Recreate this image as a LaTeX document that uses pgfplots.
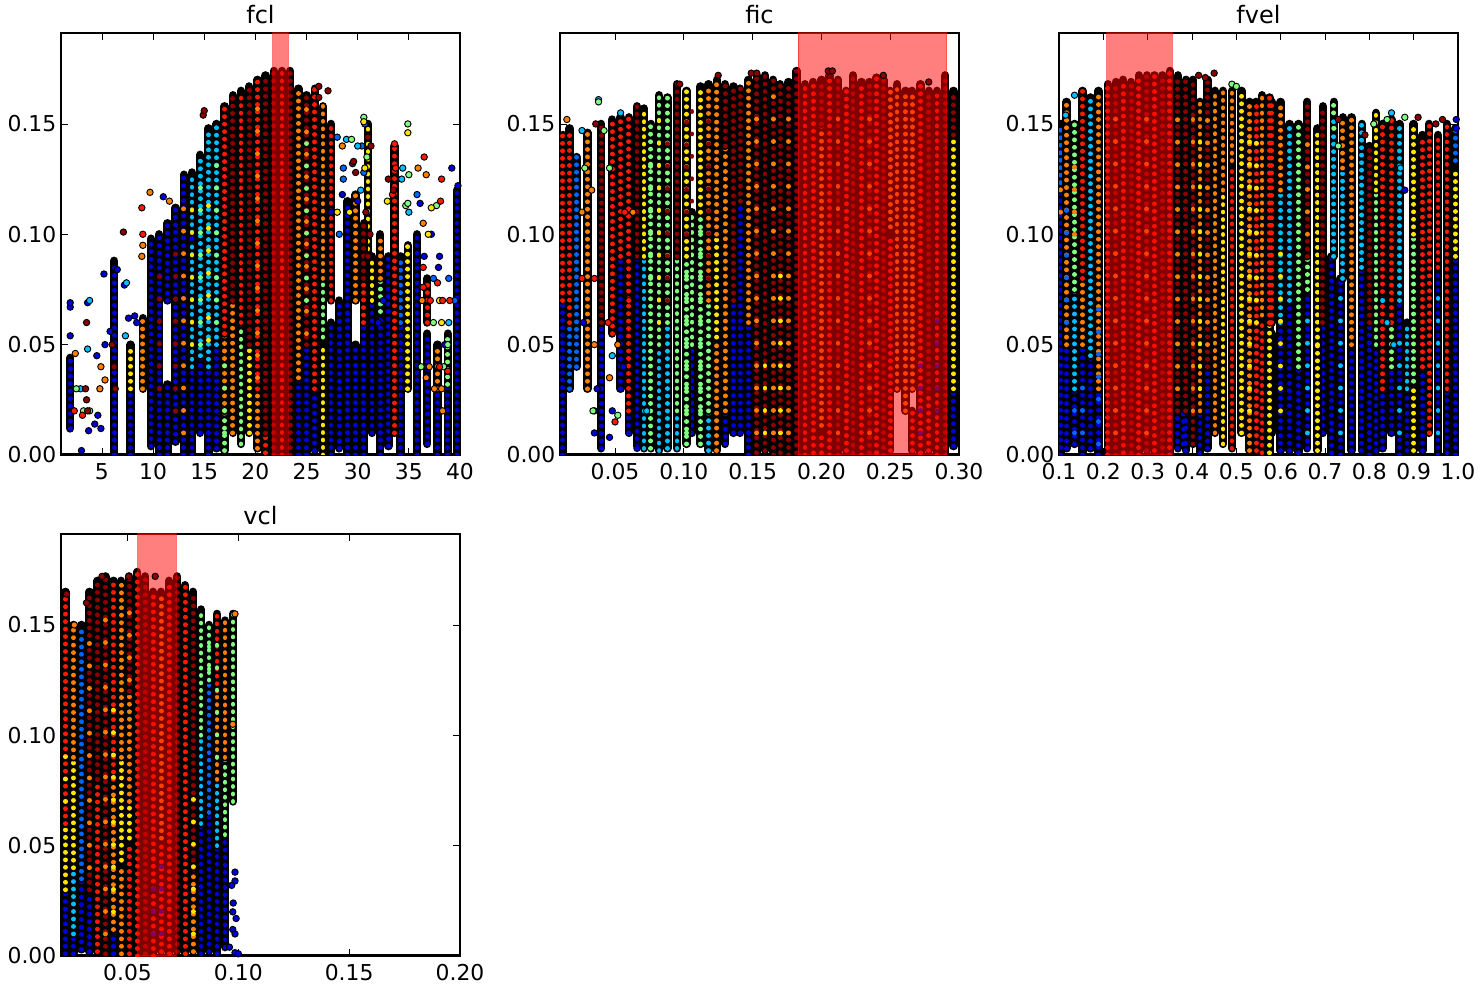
\documentclass[border=0pt]{standalone}
\usepackage{fontspec}
\setmainfont{DejaVu Sans}
\usepackage{pgfplots}
\pgfplotsset{compat=1.18}
\definecolor{cb}{rgb}{0,0,.85}
\definecolor{cl}{rgb}{0,.4,1}
\definecolor{ct}{rgb}{0,.75,1}
\definecolor{cg}{rgb}{.5,1,.5}
\definecolor{cy}{rgb}{1,.9,0}
\definecolor{co}{rgb}{1,.5,0}
\definecolor{cr}{rgb}{1,.1,0}
\definecolor{cd}{rgb}{.55,0,0}
\pgfplotsset{
  panel/.style={
    scale only axis, width=299.25pt, height=316.5pt,
    ymin=0, ymax=.1912, ytick={0,.05,.1,.15},
    scaled ticks=false, tick align=inside,
    major tick length=5pt, tick style={black,line width=.6pt},
    axis line style={line width=.8pt},
    tick label style={font=\fontsize{16.4}{18}\selectfont,
      /pgf/number format/assume math mode=true},
    xticklabel style={yshift=-3pt},
    yticklabel style={/pgf/number format/.cd,fixed,fixed zerofill,precision=2},
    title style={font=\fontsize{18}{20}\selectfont,yshift=-3pt},
    minor tick num=0, unbounded coords=jump,
  },
}
% stacked points in a column: black backing, row of coloured dots on it
\tikzset{
  back/.style={black,line width=6.3pt,line cap=round},
  dots/.style={line width=3.6pt,line cap=round,dash pattern=on .01pt off 5.6pt},
  spk/.style={line width=3.6pt,line cap=round,dash pattern=on .01pt off 16.8pt},
}
\def\J{(0,nan)}
\newcommand\col[2]{\edef\tmp{\noexpand\addplot[back] coordinates {#2};\noexpand\addplot[dots,#1] coordinates {#2};}\tmp}
\newcommand\spk[2]{\edef\tmp{\noexpand\addplot[spk,#1] coordinates {#2};}\tmp}
\newcommand\pts[2]{\addplot[only marks,mark=*,mark size=2.4pt,
  mark options={fill=#1,draw=black,line width=.7pt}] coordinates {#2};}
\newcommand\band[2]{\addplot[fill=red,fill opacity=.5,draw=red,draw opacity=.5,line width=.8pt]
  coordinates {(#1,0)(#1,.1912)(#2,.1912)(#2,0)} \closedcycle;}
\begin{document}
\begin{tikzpicture}
\useasboundingbox (0,0) rectangle (1112.25pt,741.75pt);
% ---------- fcl
\begin{axis}[panel,at={(45.75pt,400.5pt)},title={fcl},xmin=1,xmax=40,
  xtick={5,10,15,20,25,30,35,40}]
\addplot[black,line width=3pt] coordinates {(1,0)(40,0)};
\col{cb}{(1.9,.012)(1.9,.044)\J(6.2,0)(6.2,.088)\J(7.8,0)(7.8,.03)\J(9.8,.004)(9.8,.098)\J(10.6,0)(10.6,.1)\J
(11.4,0)(11.4,.032)\J(11.4,.07)(11.4,.105)\J(12.2,.006)(12.2,.112)\J(13,0)(13,.127)\J(13.8,0)(13.8,.04)\J
(14.6,.01)(14.6,.045)\J(15.4,0)(15.4,.04)\J(16.2,.003)(16.2,.05)\J(24.2,0)(24.2,.035)\J(25,0)(25,.05)\J
(25.8,.002)(25.8,.03)\J(27.4,0)(27.4,.06)\J(28.2,.003)(28.2,.07)\J(29,0)(29,.115)\J(29.8,0)(29.8,.05)\J
(30.6,0)(30.6,.06)\J(31.4,.01)(31.4,.07)\J(32.2,0)(32.2,.065)\J(33,.004)(33,.09)\J(34.2,0)(34.2,.06)\J
(35.8,0)(35.8,.1)\J(36.8,.005)(36.8,.055)\J(37.8,0)(37.8,.028)\J(38.8,0)(38.8,.032)\J(39.7,0)(39.7,.12)}
\col{cl}{(34.2,.06)(34.2,.09)}
\col{ct}{(13.8,.04)(13.8,.128)\J(14.6,.045)(14.6,.136)\J(15.4,.04)(15.4,.148)\J(16.2,.05)(16.2,.15)}
\col{cg}{(18.6,.005)(18.6,.06)\J(26.6,.05)(26.6,.08)\J(32.2,.065)(32.2,.08)\J(38.8,.032)(38.8,.055)\J(17,.002)(17,.02)}
\col{cy}{(7.8,.03)(7.8,.05)\J(19.4,.01)(19.4,.05)\J(26.6,0)(26.6,.05)\J(34.9,.03)(34.9,.095)\J(31,.09)(31,.15)\J(31.4,.07)(31.4,.09)}
\col{co}{(9,.03)(9,.062)\J(17,.02)(17,.055)\J(17.8,.01)(17.8,.07)\J(24.2,.035)(24.2,.166)\J(26.6,.08)(26.6,.158)\J
(29.8,.07)(29.8,.118)\J(32.2,.08)(32.2,.1)\J(37.8,.03)(37.8,.05)\J(20.2,.003)(20.2,.03)}
\col{cr}{(17,.055)(17,.158)\J(18.6,.06)(18.6,.165)\J(20.2,.03)(20.2,.17)\J(22.6,0)(22.6,.174)\J(25.8,.03)(25.8,.166)\J
(27.4,.07)(27.4,.15)\J(33.6,.01)(33.6,.14)\J(30.6,.06)(30.6,.08)\J(36.8,.06)(36.8,.08)\J(21,.001)(21,.01)}
\col{cd}{(17.8,.07)(17.8,.163)\J(19.4,.05)(19.4,.167)\J(21,.01)(21,.172)\J(21.8,0)(21.8,.174)\J(23.4,0)(23.4,.174)\J
(25,.05)(25,.163)\J(30.6,.08)(30.6,.105)}
\spk{draw=cy}{(13.8,.05)(13.8,.12)\J(15.4,.052)(15.4,.12)}
\spk{draw=cg}{(14.6,.05)(14.6,.13)\J(16.2,.06)(16.2,.14)}
\spk{draw=cd}{(12.2,.02)(12.2,.1)\J(10.6,.03)(10.6,.09)}
\spk{draw=co}{(13,.01)(13,.12)\J(20.2,.035)(20.2,.16)\J(25,.055)(25,.16)}
\spk{draw=cg}{(25,.07)(25,.15)\J(17,.01)(17,.05)}
\pts{cb}{(1.9,.054)(1.9,.067)(1.9,.069)(3,.002)(3.7,.011)(3.6,.069)(4.6,.018)(4.5,.045)(4.3,.014)(5.3,.05)(5.8,.056)(4.9,.012)
(6.5,.084)(5.2,.082)(7.6,.062)(8.2,.063)(7.2,.077)(8.4,.06)(11,.117)(13.8,.098)(27.4,.11)(28.5,.118)(30,.115)(32,.06)
(36.1,.114)(36.5,.09)(37.2,.1)(38,.09)(39.2,.13)(39.8,.122)(37.9,.085)(38.5,.05)(36.8,.04)(33,.065)(32.5,.07)}
\pts{cl}{(28.6,.13)(28.6,.125)(28,.144)(30.7,.15)(30.6,.128)(30.4,.14)(28.2,.1)(35.8,.118)(38.9,.08)(37.4,.08)(39.5,.07)}
\pts{ct}{(3.8,.07)(7.4,.078)(7.3,.054)(3.6,.048)(2.9,.03)(28.9,.143)(34.4,.13)(34.3,.125)(30,.14)(30.3,.12)(38.9,.06)(35,.11)}
\pts{cg}{(2.5,.03)(3.2,.02)(3.8,.02)(34.7,.113)(37.7,.113)(29.4,.143)(30.6,.153)(30.9,.135)(34.9,.15)(35,.127)(34.9,.114)
(37.4,.06)(38.8,.05)(38.4,.04)(36.2,.04)}
\pts{cy}{(30.6,.151)(32.9,.115)(30.7,.13)(34.9,.146)(37.2,.112)(38,.07)(36.9,.1)(38.2,.06)(28,.11)(29.2,.11)}
\pts{co}{(2.4,.046)(4.8,.03)(5.3,.034)(4.9,.04)(9.7,.119)(8.9,.09)(9,.095)(28.5,.14)(11.6,.115)(35.9,.13)(36.7,.127)(36.4,.105)
(36.3,.07)(36.7,.035)(37.5,.03)(38.2,.03)(38.3,.02)(37,.04)}
\pts{cr}{(2.3,.02)(3.1,.018)(9,.1)(8.9,.112)(33.6,.141)(33.4,.118)(33.7,.13)(36.5,.135)(38.2,.125)(38.1,.115)(36.4,.085)(36.4,.076)
(37.8,.078)(38.3,.07)(39,.07)(38,.04)(38.8,.038)(37.1,.07)}
\pts{cd}{(3.4,.03)(3.6,.02)(3.5,.025)(3.5,.06)(7.1,.101)(14.9,.154)(15,.156)(27.1,.165)(26.2,.167)(33.5,.12)(33,.125)(31,.144)(31.3,.14)
(29.5,.132)(29.6,.133)(29.8,.128)(30.8,.11)(31.2,.1)(31,.09)(26.2,.162)(6,.05)(6.2,.04)(6.3,.03)}
\band{21.7}{23.2}
\end{axis}
% ---------- fic
\begin{axis}[panel,at={(420pt,400.5pt)},title={fic},xmin=.01,xmax=.3,
  xtick={.05,.1,.15,.2,.25,.3},
  xticklabel style={/pgf/number format/.cd,fixed,fixed zerofill,precision=2}]
\addplot[black,line width=3pt] coordinates {(.01,0)(.3,0)};
\col{cb}{(.012,0)(.012,.07)\J(.04,.003)(.04,.06)\J(.066,.004)(.066,.09)\J(.06,.01)(.06,.02)\J(.141,.01)(.141,.115)\J
(.136,.01)(.136,.07)\J(.147,0)(.147,.06)\J(.296,.004)(.296,.03)\J(.106,.01)(.106,.05)\J(.13,.005)(.13,.02)\J(.054,.03)(.054,.09)}
\col{cl}{(.022,.04)(.022,.135)\J(.017,.03)(.017,.06)}
\col{ct}{(.071,.003)(.071,.09)\J(.082,.002)(.082,.05)\J(.088,.003)(.088,.06)\J(.118,.002)(.118,.02)\J(.095,.003)(.095,.02)}
\col{cg}{(.076,.003)(.076,.15)\J(.082,.05)(.082,.163)\J(.088,.06)(.088,.162)\J(.095,.02)(.095,.09)\J(.106,.05)(.106,.11)\J(.118,.02)(.118,.07)\J
(.102,.005)(.102,.09)\J(.112,.005)(.112,.11)}
\col{cy}{(.071,.09)(.071,.157)\J(.102,.09)(.102,.165)\J(.112,.11)(.112,.167)\J(.124,.05)(.124,.1)\J(.296,.03)(.296,.145)}
\col{co}{(.03,.03)(.03,.146)\J(.118,.07)(.118,.168)\J(.124,.1)(.124,.17)\J(.13,.02)(.13,.14)\J(.147,.06)(.147,.17)\J(.255,.03)(.255,.168)\J
(.261,.02)(.261,.165)\J(.266,.03)(.266,.165)\J(.25,.1)(.25,.165)\J(.2,.01)(.2,.15)\J(.124,.002)(.124,.05)}
\col{cr}{(.012,.07)(.012,.145)\J(.017,.06)(.017,.148)\J(.048,.055)(.048,.152)\J(.054,.09)(.054,.153)\J(.06,.02)(.06,.153)\J
(.188,0)(.188,.168)\J(.194,.001)(.194,.169)\J(.206,0)(.206,.172)\J(.218,.002)(.218,.165)\J(.229,0)(.229,.169)\J(.24,.001)(.24,.171)\J
(.272,.001)(.272,.168)\J(.284,0)(.284,.165)\J(.25,.002)(.25,.1)\J(.266,.002)(.266,.02)\J(.278,.002)(.278,.03)\J(.2,.001)(.2,.01)}
\col{cd}{(.04,.06)(.04,.15)\J(.066,.09)(.066,.158)\J(.095,.09)(.095,.168)\J(.13,.14)(.13,.168)\J(.136,.07)(.136,.167)\J(.141,.115)(.141,.166)\J
(.153,.001)(.153,.172)\J(.159,.002)(.159,.172)\J(.165,0)(.165,.17)\J(.17,.001)(.17,.168)\J(.176,0)(.176,.169)\J(.182,.001)(.182,.174)\J
(.2,.15)(.2,.17)\J(.212,0)(.212,.17)\J(.223,.001)(.223,.172)\J(.235,.001)(.235,.169)\J(.245,0)(.245,.17)\J
(.278,.03)(.278,.165)\J(.29,0)(.29,.172)\J(.296,.145)(.296,.165)}
\spk{draw=cg}{(.102,.01)(.102,.09)\J(.112,.02)(.112,.11)\J(.076,.08)(.076,.14)}
\spk{draw=cy}{(.082,.06)(.082,.155)\J(.159,.01)(.159,.05)\J(.17,.01)(.17,.09)}
\spk{draw=co}{(.153,.01)(.153,.16)\J(.165,.01)(.165,.165)\J(.176,.01)(.176,.16)\J(.212,.01)(.212,.16)\J(.235,.01)(.235,.16)}
\spk{draw=cd}{(.088,.07)(.088,.15)\J(.106,.115)(.106,.16)\J(.118,.08)(.118,.16)\J(.102,.1)(.102,.16)}
\spk{draw=cb}{(.272,.01)(.272,.05)\J(.284,.02)(.284,.07)}
\pts{cb}{(.035,.01)(.035,.02)(.048,.02)(.054,.03)(.056,.04)(.06,.01)(.027,.06)(.037,.03)(.046,.008)(.066,.003)}
\pts{ct}{(.038,.161)(.026,.147)(.054,.155)(.048,.045)(.073,.02)}
\pts{cg}{(.038,.16)(.028,.13)(.042,.147)(.046,.13)(.034,.02)(.052,.018)}
\pts{co}{(.015,.152)(.026,.11)(.033,.12)(.035,.05)(.046,.035)(.052,.05)(.063,.11)}
\pts{cr}{(.026,.08)(.035,.08)(.045,.06)(.05,.015)(.06,.07)(.057,.11)}
\pts{cd}{(.097,.168)(.125,.172)(.149,.173)(.153,.173)(.205,.174)(.208,.174)(.245,.172)(.278,.169)(.036,.15)}
\band{.183}{.291}
\end{axis}
% ---------- fvel
\begin{axis}[panel,at={(794.25pt,400.5pt)},title={fvel},xmin=.1,xmax=1,
  xtick={.1,.2,.3,.4,.5,.6,.7,.8,.9,1},
  xticklabel style={/pgf/number format/.cd,fixed,fixed zerofill,precision=1}]
\addplot[black,line width=3pt] coordinates {(.1,0)(1,0)};
\col{cb}{(.104,0)(.104,.12)\J(.117,.003)(.117,.05)\J(.135,.005)(.135,.03)\J(.153,0)(.153,.05)\J(.171,.003)(.171,.045)\J(.189,0)(.189,.03)\J
(.38,.005)(.38,.02)\J(.418,.001)(.418,.02)\J(.435,.003)(.435,.04)\J(.58,.01)(.58,.055)\J(.6,.002)(.6,.06)\J(.62,.002)(.62,.07)\J(.64,.001)(.64,.04)\J
(.66,.003)(.66,.075)\J(.695,.01)(.695,.06)\J(.715,.001)(.715,.09)\J(.735,0)(.735,.08)\J(.76,.002)(.76,.05)\J(.783,.002)(.783,.085)\J
(.8,0)(.8,.06)\J(.815,.002)(.815,.05)\J(.83,.003)(.83,.03)\J(.85,.01)(.85,.04)\J(.868,0)(.868,.07)\J(.885,.002)(.885,.03)\J(.92,.002)(.92,.04)\J(.955,0)(.955,.085)\J
(.975,.001)(.975,.03)\J(.994,0)(.994,.09)\J(.368,.003)(.368,.02)\J(.386,.002)(.386,.02)}
\col{cl}{(.104,.12)(.104,.15)\J(.994,.13)(.994,.148)}
\col{ct}{(.135,.03)(.135,.075)\J(.171,.045)(.171,.162)\J(.62,.07)(.62,.15)\J(.72,.09)(.72,.155)\J(.74,.08)(.74,.13)\J(.783,.085)(.783,.15)\J
(.868,.07)(.868,.15)\J(.6,.06)(.6,.12)\J(.885,.03)(.885,.06)}
\col{cg}{(.135,.075)(.135,.15)\J(.64,.04)(.64,.15)\J(.66,.075)(.66,.09)\J(.815,.05)(.815,.12)\J(.9,.03)(.9,.1)\J(.72,.155)(.72,.16)\J(.85,.04)(.85,.06)}
\col{cy}{(.47,.005)(.47,.12)\J(.512,.01)(.512,.165)\J(.575,.001)(.575,.06)\J(.683,.05)(.683,.148)\J(.815,.12)(.815,.155)\J(.9,.002)(.9,.03)\J(.9,.1)(.9,.15)\J(.994,.09)(.994,.13)\J(.683,.002)(.683,.05)}
\col{co}{(.117,.05)(.117,.16)\J(.153,.05)(.153,.08)\J(.189,.03)(.189,.165)\J(.418,.02)(.418,.16)\J(.452,.01)(.452,.165)\J(.49,.13)(.49,.165)\J
(.53,.002)(.53,.16)\J(.558,.06)(.558,.163)\J(.74,.13)(.74,.153)\J(.76,.05)(.76,.153)\J(.47,.12)(.47,.165)\J(.6,.12)(.6,.16)}
\col{cr}{(.153,.08)(.153,.165)\J(.21,0)(.21,.168)\J(.245,.001)(.245,.17)\J(.28,0)(.28,.172)\J(.315,.002)(.315,.172)\J(.35,0)(.35,.174)\J
(.49,.003)(.49,.13)\J(.545,.002)(.545,.16)\J(.58,.06)(.58,.16)\J(.83,.03)(.83,.15)\J(.85,.06)(.85,.152)\J(.92,.04)(.92,.145)\J(.935,.01)(.935,.15)\J
(.975,.03)(.975,.15)\J(.575,.06)(.575,.162)\J(.558,.001)(.558,.06)\J(.955,.085)(.955,.145)}
\col{cd}{(.228,0)(.228,.169)\J(.263,.001)(.263,.169)\J(.298,.002)(.298,.172)\J(.333,0)(.333,.172)\J
(.368,.02)(.368,.172)\J(.386,.02)(.386,.17)\J(.402,.005)(.402,.17)\J(.435,.04)(.435,.17)\J(.66,.09)(.66,.16)\J(.695,.06)(.695,.158)\J(.8,.06)(.8,.14)}
\spk{draw=co}{(.104,.11)(.104,.125)\J(.135,.1)(.135,.14)\J(.368,.03)(.368,.16)\J(.402,.02)(.402,.16)\J(.435,.05)(.435,.16)\J(.228,.01)(.228,.16)\J(.298,.01)(.298,.16)\J(.66,.1)(.66,.15)}
\spk{draw=cy}{(.53,.02)(.53,.15)\J(.545,.06)(.545,.15)\J(.418,.03)(.418,.15)\J(.6,.02)(.6,.1)}
\spk{draw=cl}{(.117,.06)(.117,.12)\J(.153,.01)(.153,.04)\J(.189,.005)(.189,.07)\J(.135,.01)(.135,.03)}
\spk{draw=ct}{(.66,.01)(.66,.07)\J(.955,.01)(.955,.08)\J(.868,.01)(.868,.06)\J(.735,.01)(.735,.08)}
\pts{cd}{(.415,.172)(.45,.173)(.43,.171)(.79,.145)(.73,.152)(.965,.152)(.91,.153)(.95,.15)}
\pts{cg}{(.49,.168)(.5,.167)(.72,.148)(.73,.14)(.84,.152)(.81,.15)(.88,.153)}
\pts{ct}{(.115,.154)(.135,.163)(.85,.155)(.87,.13)(.84,.06)(.83,.07)(.855,.05)}
\pts{cb}{(.996,.152)(.996,.148)(.88,.12)}
\band{.208}{.355}
\end{axis}
% ---------- vcl
\begin{axis}[panel,at={(45.75pt,24.75pt)},title={vcl},xmin=.02,xmax=.2,
  xtick={.05,.1,.15,.2},
  xticklabel style={/pgf/number format/.cd,fixed,fixed zerofill,precision=2}]
\addplot[black,line width=3pt] coordinates {(.02,0)(.2,0)};
\col{cb}{(.0292,.003)(.0292,.035)\J(.0328,.002)(.0328,.03)\J(.0436,.001)(.0436,.012)\J(.0832,.001)(.0832,.06)\J
(.0868,.002)(.0868,.065)\J(.0904,.001)(.0904,.05)\J(.094,.004)(.094,.055)\J(.022,.001)(.022,.03)\J(.0256,.001)(.0256,.01)}
\col{cl}{(.0292,.035)(.0292,.15)\J(.0868,.065)(.0868,.125)}
\col{ct}{(.0256,.01)(.0256,.04)\J(.0904,.05)(.0904,.08)\J(.0832,.06)(.0832,.1)}
\col{cg}{(.0832,.1)(.0832,.157)\J(.0976,.07)(.0976,.155)\J(.094,.055)(.094,.09)\J(.0868,.125)(.0868,.15)}
\col{cy}{(.0256,.04)(.0256,.09)\J(.022,.03)(.022,.06)\J(.0472,.04)(.0472,.09)\J(.0508,.05)(.0508,.07)}
\col{co}{(.0256,.09)(.0256,.15)\J(.0472,.001)(.0472,.04)\J(.0472,.09)(.0472,.17)\J(.0436,.012)(.0436,.08)\J(.094,.09)(.094,.152)\J(.0904,.08)(.0904,.12)\J(.0796,.002)(.0796,.04)\J
(.0652,.05)(.0652,.165)\J(.0508,.07)(.0508,.12)}
\col{cr}{(.022,.06)(.022,.165)\J(.0364,.002)(.0364,.08)\J(.0436,.08)(.0436,.17)\J(.0544,0)(.0544,.174)\J(.0616,0)(.0616,.165)\J(.0688,.001)(.0688,.17)\J
(.076,.001)(.076,.168)\J(.0652,.002)(.0652,.05)\J(.0904,.12)(.0904,.155)\J(.0508,.001)(.0508,.05)}
\col{cd}{(.0328,.03)(.0328,.165)\J(.0364,.08)(.0364,.17)\J(.04,.001)(.04,.172)\J(.0508,.12)(.0508,.172)\J(.058,.001)(.058,.172)\J(.0724,.002)(.0724,.172)\J
(.0796,.04)(.0796,.165)}
\spk{draw=co}{(.04,.01)(.04,.16)\J(.0328,.04)(.0328,.15)\J(.0508,.125)(.0508,.16)}
\spk{draw=cy}{(.0436,.02)(.0436,.12)\J(.0796,.01)(.0796,.08)\J(.022,.07)(.022,.1)}
\spk{draw=cg}{(.0904,.09)(.0904,.15)\J(.0868,.13)(.0868,.15)}
\spk{draw=cb}{(.0652,.01)(.0652,.05)\J(.0616,.01)(.0616,.04)}
\pts{cb}{(.0985,.038)(.0985,.034)(.097,.032)(.0975,.012)(.0985,.01)(.099,.017)(.0975,.02)(.0977,.024)(.0985,.0015)(.096,.004)(.1,.001)}
\pts{co}{(.0985,.155)(.0975,.105)(.026,.15)}
\pts{cd}{(.0385,.172)(.0225,.164)(.0315,.16)(.0505,.172)(.0625,.172)}
\band{.0547}{.0719}
\end{axis}
\end{tikzpicture}
\end{document}
